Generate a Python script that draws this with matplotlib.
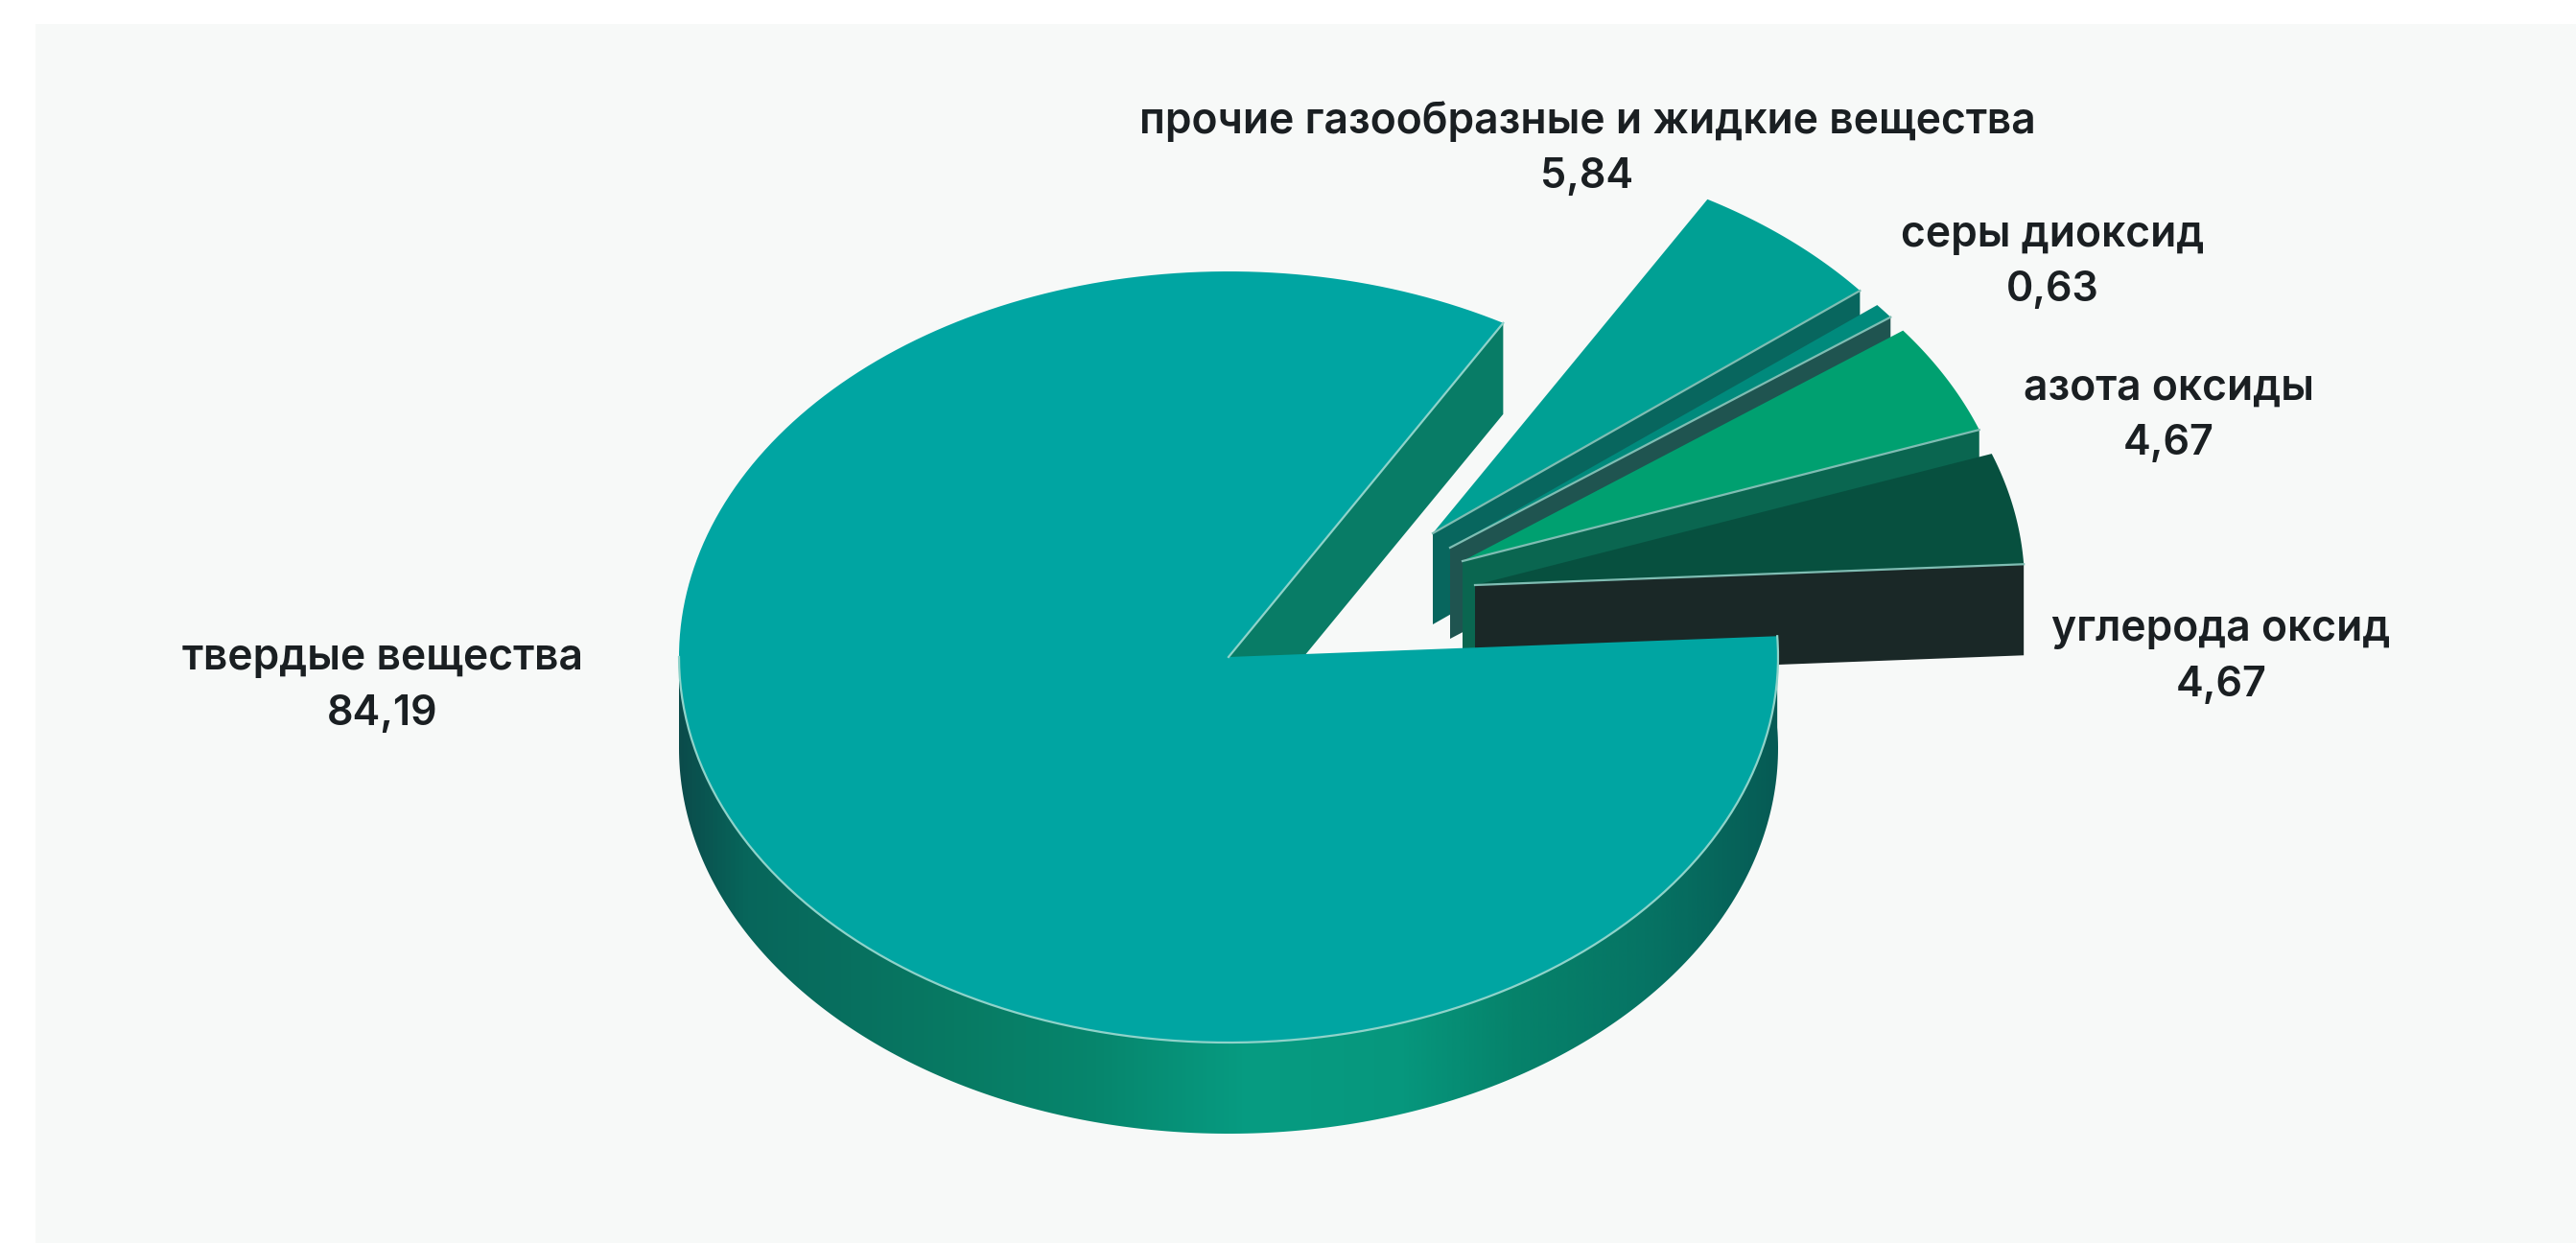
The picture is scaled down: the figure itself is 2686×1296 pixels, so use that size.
import numpy as np
import matplotlib
matplotlib.use("Agg")
import matplotlib.pyplot as plt
from matplotlib.patches import Polygon, Rectangle
from matplotlib.colors import LinearSegmentedColormap

plt.rcParams['font.family'] = ['Inter', 'DejaVu Sans']

# slices, counter-clockwise from the right-hand cut
names = ['углерода оксид', 'азота оксиды', 'серы диоксид',
         'прочие газообразные и жидкие вещества', 'твердые вещества']
values = [4.67, 4.67, 0.63, 5.84, 84.19]
value_labels = ['4,67', '4,67', '0,63', '5,84', '84,19']
top_colors = ['#07503f', '#00a070', '#008a7c', '#00a094', '#00a5a2']
face_colors = ['#1a2827', '#0a6650', '#1f5450', '#08665e', '#087c66']

# pixel layout of the figure
W, H = 2686, 1296
start_angle = 3.1
rx, ry = 573, 402
depth = 95
apex = [(1538, 610), (1525, 585), (1512, 571), (1494, 556), (1281, 685)]
label_pos = [(2316, 685), (2261, 434), (2140, 274), (1655, 156), (399, 715)]

side_stops = [(0.0, '#0b4c4b'), (0.06, '#07665b'), (0.25, '#087a63'),
              (0.38, '#06866d'), (0.52, '#079c82'), (0.66, '#06977d'),
              (0.76, '#06836b'), (0.88, '#067464'), (1.0, '#065b55')]

fig = plt.figure(figsize=(W / 200, H / 200), dpi=200)
ax = fig.add_axes([0, 0, 1, 1])
ax.set_xlim(0, W)
ax.set_ylim(H, 0)
ax.axis('off')
ax.add_patch(Rectangle((37, 25), W - 37, H - 25, fc='#f7f9f8', ec='none', zorder=0))


def arc(cx, cy, a0, a1, n=240):
    t = np.radians(np.linspace(a0, a1, n))
    return np.column_stack([cx + rx * np.cos(t), cy - ry * np.sin(t)])


def edge(cx, cy, a):
    t = np.radians(a)
    return cx + rx * np.cos(t), cy - ry * np.sin(t)


angles = start_angle + np.cumsum([0] + values) * 3.6

# the four small slices are drawn back to front, each covering the one behind it
for i in [3, 2, 1, 0]:
    a0, a1 = angles[i], angles[i + 1]
    cx, cy = apex[i]
    ex, ey = edge(cx, cy, a0)
    face = [(cx, cy), (ex, ey), (ex, ey + depth), (cx, cy + depth)]
    ax.add_patch(Polygon(face, fc=face_colors[i], ec='none', zorder=2 + 3 - i))
    top = np.vstack([[cx, cy], arc(cx, cy, a0, a1)])
    ax.add_patch(Polygon(top, fc=top_colors[i], ec='none', zorder=2 + 3 - i))
    ax.plot([cx, ex], [cy, ey], color='#7fbdb3', lw=0.8, zorder=2 + 3 - i)

# large slice: cut face, gradient wall, then the top surface
a0, a1 = angles[4], angles[5]
cx, cy = apex[4]
ex, ey = edge(cx, cy, a0)
ax.add_patch(Polygon([(cx, cy), (ex, ey), (ex, ey + depth), (cx, cy + depth)],
                     fc=face_colors[4], ec='none', zorder=6))

wall_top = arc(cx, cy, 180, a1)
wall_bottom = arc(cx, cy + depth, 180, a1)[::-1]
wall = Polygon(np.vstack([wall_top, wall_bottom]), fc='none', ec='none',
               transform=ax.transData, zorder=7)
ax.add_patch(wall)
cmap = LinearSegmentedColormap.from_list('wall', side_stops)
grad = ax.imshow(np.linspace(0, 1, 512).reshape(1, -1), cmap=cmap, aspect='auto',
                 extent=[cx - rx, cx + rx, cy + ry + depth, cy], zorder=7)
grad.set_clip_path(wall)
ax.set_xlim(0, W)
ax.set_ylim(H, 0)

top = np.vstack([[cx, cy], arc(cx, cy, a0, a1)])
ax.add_patch(Polygon(top, fc=top_colors[4], ec='none', zorder=8))
rim = arc(cx, cy, 180, a1)
ax.plot(rim[:, 0], rim[:, 1], color='#8fd3ca', lw=0.8, zorder=9)
ax.plot([cx, ex], [cy, ey], color='#8fd3ca', lw=0.8, zorder=9)

# two-line labels: name above, value below
for name, val, (x, y) in zip(names, value_labels, label_pos):
    ax.text(x, y - 29, name, ha='center', va='center', fontsize=16,
            fontweight='semibold', color='#1a1f22', zorder=10)
    ax.text(x, y + 29, val, ha='center', va='center', fontsize=15.5,
            fontweight='semibold', color='#1a1f22', zorder=10)

fig.savefig('out.png', dpi=200, facecolor='white')
